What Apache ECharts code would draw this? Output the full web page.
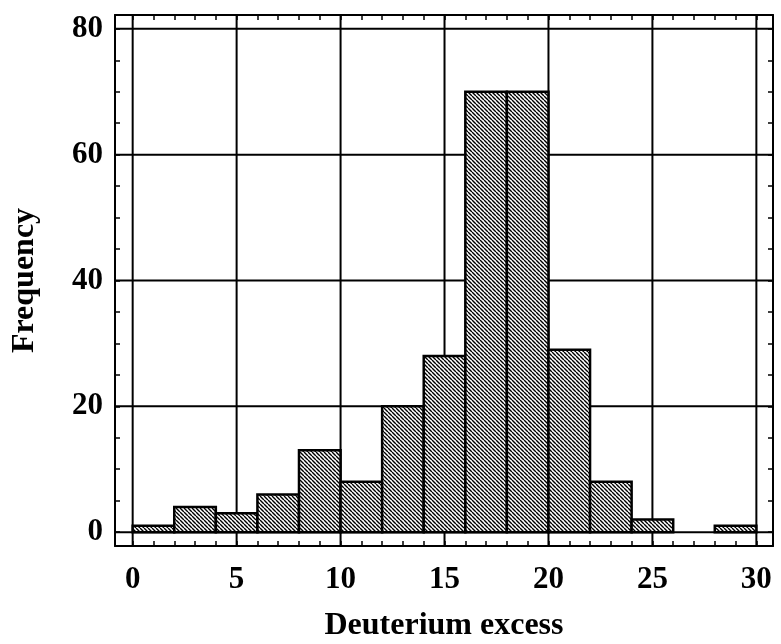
<!DOCTYPE html>
<html>
<head>
<meta charset="utf-8">
<script src="https://cdn.jsdelivr.net/npm/echarts@6/dist/echarts.min.js"></script>
<style>html,body{margin:0;padding:0;background:#fff}#c{width:781px;height:644px}</style>
</head>
<body>
<div id="c"></div>
<script>
// Histogram data (bin edges and counts)
const binEdges = [0, 2, 4, 6, 8, 10, 12, 14, 16, 18, 20, 22, 24, 26, 28, 30];
const counts = [1, 4, 3, 6, 13, 8, 20, 28, 70, 70, 29, 8, 2, 0, 1];
// Tick values
const xLabelTicks = [0, 5, 10, 15, 20, 25, 30];
const xMinorTicks = [0,1,2,3,4,5,6,7,8,9,10,11,12,13,14,15,16,17,18,19,20,21,22,23,24,25,26,27,28,29,30];
const yLabelTicks = [0, 20, 40, 60, 80];
const yMinorTicks = [0, 5, 10, 15, 20, 25, 30, 35, 40, 45, 50, 55, 60, 65, 70, 75, 80];
const xTitle = 'Deuterium excess';
const yTitle = 'Frequency';

function makeHatch() {
  const s = 4;
  const c = document.createElement('canvas');
  c.width = s; c.height = s;
  const g = c.getContext('2d');
  g.fillStyle = '#fff';
  g.fillRect(0, 0, s, s);
  g.strokeStyle = '#000';
  g.lineWidth = 1.4;
  g.beginPath();
  for (let k = -1; k <= 1; k++) {
    g.moveTo(k * s, 0);
    g.lineTo(k * s + s, s);
  }
  g.stroke();
  return c;
}
const hatch = { image: makeHatch(), repeat: 'repeat' };

const FONT = 'Liberation Serif';
const X_MIN = -0.85, X_MAX = 30.8, Y_MIN = -2.2, Y_MAX = 82.2;

const chart = echarts.init(document.getElementById('c'), null, { renderer: 'canvas' });

const axisCommon = {
  axisLine: { show: true, onZero: false, lineStyle: { color: '#000', width: 2 } },
  splitLine: { show: false }
};

chart.setOption({
  animation: false,
  backgroundColor: '#fff',
  grid: { left: 115, top: 15, width: 658, height: 531, containLabel: false, outerBoundsMode: 'none' },
  xAxis: [
    Object.assign({
      type: 'value', position: 'bottom', min: X_MIN, max: X_MAX,
      axisTick: { show: true, inside: true, length: 5, customValues: xMinorTicks, lineStyle: { color: '#000', width: 1.5 } },
      axisLabel: { show: true, customValues: xLabelTicks, margin: 18, fontFamily: FONT, fontWeight: 'bold', fontSize: 31, color: '#000' },
      name: xTitle, nameLocation: 'middle', nameGap: 64,
      nameTextStyle: { fontFamily: FONT, fontWeight: 'bold', fontSize: 32, color: '#000' }
    }, axisCommon),
    Object.assign({
      type: 'value', position: 'top', min: X_MIN, max: X_MAX,
      axisTick: { show: true, inside: true, length: 5, customValues: xMinorTicks, lineStyle: { color: '#000', width: 1.5 } },
      axisLabel: { show: false }
    }, axisCommon)
  ],
  yAxis: [
    Object.assign({
      type: 'value', position: 'left', min: Y_MIN, max: Y_MAX,
      axisTick: { show: true, inside: true, length: 5, customValues: yMinorTicks, lineStyle: { color: '#000', width: 1.5 } },
      axisLabel: { show: true, customValues: yLabelTicks, margin: 12, fontFamily: FONT, fontWeight: 'bold', fontSize: 31, color: '#000' },
      name: yTitle, nameLocation: 'middle', nameGap: 74, nameRotate: 90,
      nameTextStyle: { fontFamily: FONT, fontWeight: 'bold', fontSize: 32, color: '#000' }
    }, axisCommon),
    Object.assign({
      type: 'value', position: 'right', min: Y_MIN, max: Y_MAX,
      axisTick: { show: true, inside: true, length: 5, customValues: yMinorTicks, lineStyle: { color: '#000', width: 1.5 } },
      axisLabel: { show: false }
    }, axisCommon)
  ],
  series: [
    {
      type: 'custom', name: 'vgrid', z: 1, silent: true,
      data: xLabelTicks.map(v => [v, 0]),
      encode: { x: 0, y: 1 },
      renderItem: function (params, api) {
        const cs = params.coordSys;
        const x = api.coord([api.value(0), 0])[0];
        return { type: 'line', shape: { x1: x, y1: cs.y, x2: x, y2: cs.y + cs.height },
                 style: { stroke: '#000', lineWidth: 2 } };
      }
    },
    {
      type: 'custom', name: 'hgrid', z: 1, silent: true,
      data: yLabelTicks.map(v => [0, v]),
      encode: { x: 0, y: 1 },
      renderItem: function (params, api) {
        const cs = params.coordSys;
        const y = api.coord([0, api.value(1)])[1];
        return { type: 'line', shape: { x1: cs.x, y1: y, x2: cs.x + cs.width, y2: y },
                 style: { stroke: '#000', lineWidth: 2 } };
      }
    },
    {
      type: 'custom', name: 'hist', z: 3,
      data: counts.map((c, i) => [binEdges[i], binEdges[i + 1], c]),
      encode: { x: [0, 1], y: 2 },
      renderItem: function (params, api) {
        const c = api.value(2);
        if (!c) return null;
        const p0 = api.coord([api.value(0), c]);
        const p1 = api.coord([api.value(1), 0]);
        return { type: 'rect',
                 shape: { x: p0[0], y: p0[1], width: p1[0] - p0[0], height: p1[1] - p0[1] },
                 style: { fill: hatch, stroke: '#000', lineWidth: 2.5 } };
      }
    }
  ]
});
</script>
</body>
</html>
